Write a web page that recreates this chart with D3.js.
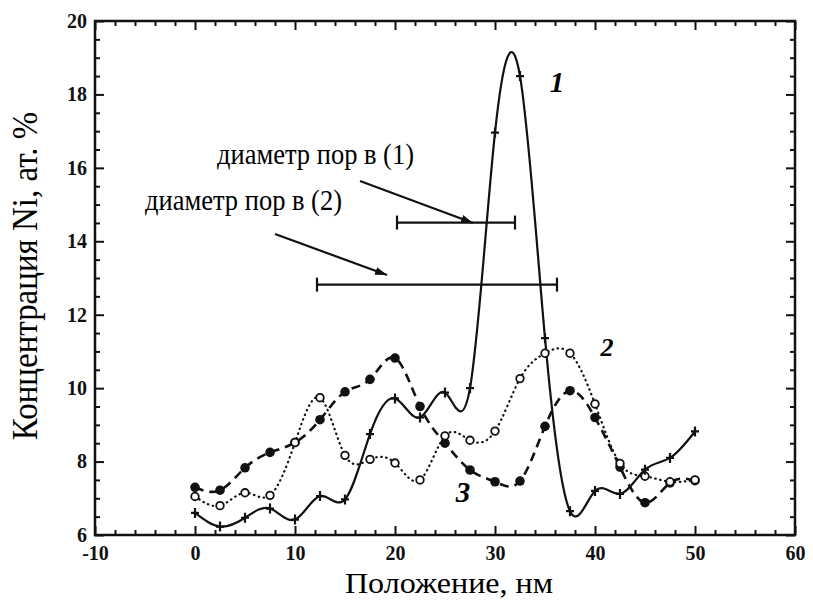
<!DOCTYPE html>
<html lang="ru">
<head>
<meta charset="utf-8">
<title>Концентрация Ni</title>
<script src="https://cdn.jsdelivr.net/npm/d3@7"></script>
</head>
<body style="margin:0;background:white">
<script>

// positions along the scan, nm
var positions = [0, 2.5, 5, 7.5, 10, 12.5, 15, 17.5, 20, 22.5, 25,
                 27.5, 30, 32.5, 35, 37.5, 40, 42.5, 45, 47.5, 50];

// Ni concentration, at. %
var curve1 = [6.6, 6.23, 6.47, 6.72, 6.42, 7.06, 6.97, 8.75, 9.72, 9.2, 9.88,
              10.0, 16.96, 18.5, 11.36, 6.65, 7.2, 7.12, 7.78, 8.1, 8.82];
var curve2 = [7.05, 6.8, 7.15, 7.08, 8.52, 9.74, 8.17, 8.06, 7.96, 7.5, 8.7,
              8.58, 8.83, 10.26, 10.95, 10.95, 9.57, 7.95, 7.6, 7.45, 7.5];
var curve3 = [7.3, 7.22, 7.83, 8.25, 8.52, 9.14, 9.9, 10.24, 10.82, 9.5, 8.5,
              7.77, 7.45, 7.47, 8.96, 9.93, 9.2, 7.85, 6.88, 7.42, 7.48];

// pore diameter ranges: [from, to, level]
var pore1 = [20.2, 32.0, 14.51];
var pore2 = [12.2, 36.2, 12.82];

var xTicks = [-10, 0, 10, 20, 30, 40, 50, 60];
var yTicks = [6, 8, 10, 12, 14, 16, 18, 20];

var w = 813, h = 601;
var serif = "'Liberation Serif', 'Times New Roman', Times, serif";

var svg = d3.select("body")
    .append("svg")
    .attr("width", w)
    .attr("height", h)
    .style("display", "block");

var xScale = d3.scaleLinear().domain([-10, 60]).range([95, 795]);
var yScale = d3.scaleLinear().domain([6, 20]).range([535, 21]);

var xMinor = d3.range(-10, 60.1, 2).filter(function(d) { return d % 10 != 0 });
var yMinor = d3.range(6, 20.1, 0.5).filter(function(d) { return d % 2 != 0 });

// axes, ticks pointing inward
function fmt(d) { return String(d); }

svg.append("g").attr("class", "axis")
   .attr("transform", "translate(0," + yScale(6) + ")")
   .call(d3.axisBottom(xScale).tickValues(xTicks).tickFormat(fmt)
         .tickSizeInner(-9).tickSizeOuter(0).tickPadding(11));
svg.append("g").attr("class", "axis minor")
   .attr("transform", "translate(0," + yScale(6) + ")")
   .call(d3.axisBottom(xScale).tickValues(xMinor).tickFormat("")
         .tickSizeInner(-5).tickSizeOuter(0));
svg.append("g").attr("class", "axis")
   .attr("transform", "translate(0," + yScale(20) + ")")
   .call(d3.axisTop(xScale).tickValues(xTicks).tickFormat("")
         .tickSizeInner(-9).tickSizeOuter(0));
svg.append("g").attr("class", "axis minor")
   .attr("transform", "translate(0," + yScale(20) + ")")
   .call(d3.axisTop(xScale).tickValues(xMinor).tickFormat("")
         .tickSizeInner(-5).tickSizeOuter(0));

svg.append("g").attr("class", "axis")
   .attr("transform", "translate(" + xScale(-10) + ",0)")
   .call(d3.axisLeft(yScale).tickValues(yTicks).tickFormat(fmt)
         .tickSizeInner(-9).tickSizeOuter(0).tickPadding(8));
svg.append("g").attr("class", "axis minor")
   .attr("transform", "translate(" + xScale(-10) + ",0)")
   .call(d3.axisLeft(yScale).tickValues(yMinor).tickFormat("")
         .tickSizeInner(-5).tickSizeOuter(0));
svg.append("g").attr("class", "axis")
   .attr("transform", "translate(" + xScale(60) + ",0)")
   .call(d3.axisRight(yScale).tickValues(yTicks).tickFormat("")
         .tickSizeInner(-9).tickSizeOuter(0));
svg.append("g").attr("class", "axis minor")
   .attr("transform", "translate(" + xScale(60) + ",0)")
   .call(d3.axisRight(yScale).tickValues(yMinor).tickFormat("")
         .tickSizeInner(-5).tickSizeOuter(0));

svg.selectAll(".axis .domain").remove();
svg.selectAll(".axis .tick line").attr("stroke", "#111").attr("stroke-width", 2);
svg.selectAll(".axis .tick text")
   .attr("fill", "#111")
   .style("font-family", serif)
   .style("font-weight", "bold")
   .style("font-size", "20px");

// frame
svg.append("rect")
   .attr("x", xScale(-10))
   .attr("y", yScale(20))
   .attr("width", xScale(60) - xScale(-10))
   .attr("height", yScale(6) - yScale(20))
   .attr("fill", "none")
   .attr("stroke", "#111")
   .attr("stroke-width", 2.5);

// axis titles
svg.append("text")
   .attr("transform", "translate(" + ((xScale(-10) + xScale(60)) / 2 + 4) + ",593) scale(1.07,1)")
   .attr("text-anchor", "middle")
   .style("font-family", serif)
   .style("font-size", "30px")
   .text("Положение, нм");

svg.append("text")
   .attr("transform", "translate(37," + ((yScale(6) + yScale(20)) / 2 - 2) + ") rotate(-90) scale(1,1.1)")
   .attr("text-anchor", "middle")
   .style("font-family", serif)
   .style("font-size", "33px")
   .text("Концентрация Ni, ат. %");

// curves
var line = d3.line()
    .x(function(d) { return xScale(d[0]) })
    .y(function(d) { return yScale(d[1]) })
    .curve(d3.curveNatural);

function pairs(vals) {
  return positions.map(function(p, i) { return [p, vals[i]] });
}

svg.append("path")
   .attr("d", line(pairs(curve3)))
   .attr("fill", "none")
   .attr("stroke", "#111")
   .attr("stroke-width", 2.6)
   .attr("stroke-dasharray", "9,6");

svg.append("path")
   .attr("d", line(pairs(curve2)))
   .attr("fill", "none")
   .attr("stroke", "#111")
   .attr("stroke-width", 2.2)
   .attr("stroke-linecap", "round")
   .attr("stroke-dasharray", "0.5,4.5");

svg.append("path")
   .attr("d", line(pairs(curve1)))
   .attr("fill", "none")
   .attr("stroke", "#111")
   .attr("stroke-width", 2.2);

// markers
svg.append("g").selectAll("circle")
   .data(pairs(curve3))
   .enter().append("circle")
   .attr("cx", function(d) { return xScale(d[0]) })
   .attr("cy", function(d) { return yScale(d[1]) })
   .attr("r", 4.8)
   .attr("fill", "#111");

svg.append("g").selectAll("circle")
   .data(pairs(curve2))
   .enter().append("circle")
   .attr("cx", function(d) { return xScale(d[0]) })
   .attr("cy", function(d) { return yScale(d[1]) })
   .attr("r", 3.8)
   .attr("fill", "white")
   .attr("stroke", "#111")
   .attr("stroke-width", 1.8);

svg.append("g").selectAll("path")
   .data(pairs(curve1))
   .enter().append("path")
   .attr("transform", function(d) { return "translate(" + xScale(d[0]) + "," + yScale(d[1]) + ")" })
   .attr("d", "M-4,0H4M0,-5V5")
   .attr("stroke", "#111")
   .attr("stroke-width", 2.2);

// pore diameter intervals
[pore1, pore2].forEach(function(p) {
  var g = svg.append("g").attr("stroke", "#111").attr("stroke-width", 2.2);
  g.append("line")
   .attr("x1", xScale(p[0])).attr("x2", xScale(p[1]))
   .attr("y1", yScale(p[2])).attr("y2", yScale(p[2]));
  g.append("line")
   .attr("x1", xScale(p[0])).attr("x2", xScale(p[0]))
   .attr("y1", yScale(p[2]) - 7).attr("y2", yScale(p[2]) + 7);
  g.append("line")
   .attr("x1", xScale(p[1])).attr("x2", xScale(p[1]))
   .attr("y1", yScale(p[2]) - 7).attr("y2", yScale(p[2]) + 7);
});

// arrows and notes
svg.append("defs").append("marker")
   .attr("id", "head")
   .attr("viewBox", "0 0 12 8")
   .attr("refX", 12).attr("refY", 4)
   .attr("markerWidth", 12).attr("markerHeight", 8)
   .attr("markerUnits", "userSpaceOnUse")
   .attr("orient", "auto")
   .append("path")
   .attr("d", "M0,0L12,4L0,8Z")
   .attr("fill", "#111");

var notes = [
  {text: "диаметр пор в (1)", x: 2.2, y: 16.1, from: [16.5, 15.64], to: [27.8, 14.5]},
  {text: "диаметр пор в (2)", x: -5.0, y: 14.85, from: [8.0, 14.2], to: [19.2, 13.08]}
];

notes.forEach(function(n) {
  svg.append("text")
     .attr("transform", "translate(" + xScale(n.x) + "," + yScale(n.y) + ") scale(1,1.15)")
     .style("font-family", serif)
     .style("font-size", "26.5px")
     .text(n.text);
  svg.append("line")
     .attr("x1", xScale(n.from[0])).attr("y1", yScale(n.from[1]))
     .attr("x2", xScale(n.to[0])).attr("y2", yScale(n.to[1]))
     .attr("stroke", "#111")
     .attr("stroke-width", 2.2)
     .attr("marker-end", "url(#head)");
});

// curve numbers
var labels = [
  {t: "1", x: 36.2, y: 18.07, size: 29},
  {t: "2", x: 41.2, y: 10.88, size: 26},
  {t: "3", x: 26.8, y: 6.9, size: 29}
];
svg.selectAll(".num")
   .data(labels)
   .enter().append("text")
   .attr("class", "num")
   .attr("x", function(d) { return xScale(d.x) })
   .attr("y", function(d) { return yScale(d.y) })
   .attr("text-anchor", "middle")
   .style("font-family", serif)
   .style("font-style", "italic")
   .style("font-weight", "bold")
   .style("font-size", function(d) { return d.size + "px" })
   .text(function(d) { return d.t });

</script>
</body>
</html>
